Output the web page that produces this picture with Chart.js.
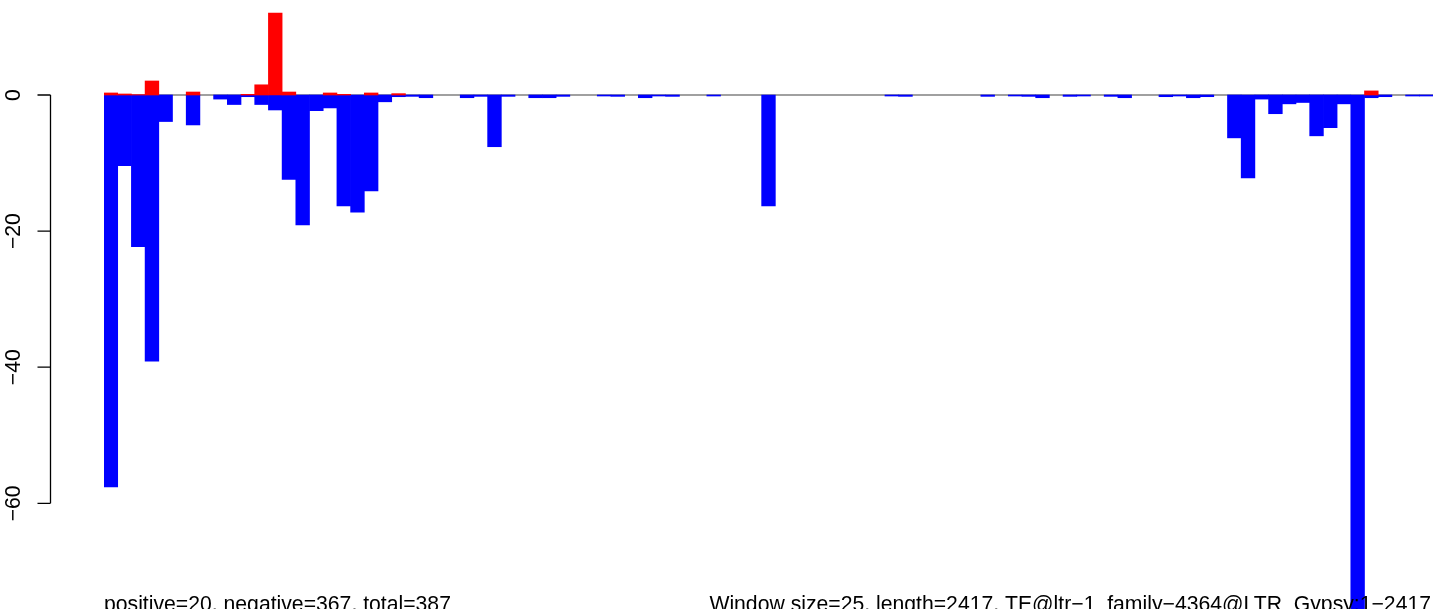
<!DOCTYPE html>
<html lang="en">
<head>
  <meta charset="UTF-8" />
  <title>Window score barplot</title>
  <script src="https://cdn.jsdelivr.net/npm/chart.js"></script>
  <style>
    body { margin: 0; background: #fff; }
    canvas { display: block; }
  </style>
</head>
<body>
  <canvas id="winChart" width="1433" height="609"></canvas>

  <script>
    // one bar per 25 bp window (97 windows over 2417 bp)
    const negative = [
      -57.6, -10.4, -22.3, -39.1, -3.9, 0, -4.4, 0, -0.6, -1.4,
      -0.25, -1.4, -2.2, -12.4, -19.1, -2.3, -1.9, -16.3, -17.2, -14.1,
      -1.0, -0.25, -0.2, -0.4, 0, 0, -0.4, -0.2, -7.6, -0.2,
      0, -0.4, -0.4, -0.2, 0, 0, -0.15, -0.2, 0, -0.4,
      -0.15, -0.2, 0, 0, -0.15, 0, 0, 0, -16.3, 0,
      0, 0, 0, 0, 0, 0, 0, -0.15, -0.2, 0,
      0, 0, 0, 0, -0.2, 0, -0.15, -0.2, -0.4, 0,
      -0.2, -0.15, 0, -0.2, -0.4, 0, 0, -0.25, -0.15, -0.4,
      -0.25, 0, -6.3, -12.2, -0.6, -2.75, -1.3, -1.1, -6.0, -4.8,
      -1.3, -80, -0.4, -0.25, 0, -0.15, -0.15
    ];
    const positive = [
      0.3, 0.15, 0.05, 2.06, 0, 0, 0.44, 0, 0, 0,
      0.1, 1.5, 12.05, 0.44, 0, 0, 0.3, 0.1, 0, 0.3,
      0, 0.2, 0, 0, 0, 0, 0, 0, 0, 0,
      0, 0, 0, 0, 0, 0, 0, 0, 0, 0,
      0, 0, 0, 0, 0, 0, 0, 0, 0, 0,
      0, 0, 0, 0, 0, 0, 0, 0, 0, 0,
      0, 0, 0, 0, 0, 0, 0, 0, 0, 0,
      0, 0, 0, 0, 0, 0, 0, 0, 0, 0,
      0, 0, 0, 0, 0, 0, 0, 0, 0, 0,
      0, 0, 0.6, 0, 0, 0, 0
    ];
    const windows = negative.map((v, i) => i + 1);
    const yTicks = [0, -20, -40, -60];
    const leftNote = 'positive=20, negative=367, total=387';
    const rightNote = 'Window size=25, length=2417, TE@ltr\u22121_family\u22124364@LTR_Gypsy:1\u22122417';

    const fmt = v => String(v).replace('-', '\u2212');
    const noZero = arr => arr.map(v => (v === 0 ? null : v)); // empty windows draw nothing

    // gray zero line under the bars
    const zeroLine = {
      id: 'zeroLine',
      beforeDatasetsDraw(chart) {
        const { ctx, chartArea, scales } = chart;
        const y = scales.y.getPixelForValue(0);
        ctx.save();
        ctx.strokeStyle = '#808080';
        ctx.lineWidth = 1.3;
        ctx.beginPath();
        ctx.moveTo(chartArea.left, y);
        ctx.lineTo(chartArea.right, y);
        ctx.stroke();
        ctx.restore();
      }
    };

    // R-style left axis plus the two margin notes
    const rAxis = {
      id: 'rAxis',
      afterDraw(chart) {
        const { ctx, scales } = chart;
        const y = scales.y;
        const ax = 50.5;
        ctx.save();
        ctx.strokeStyle = '#000';
        ctx.lineWidth = 1.3;
        ctx.beginPath();
        ctx.moveTo(ax, y.getPixelForValue(yTicks[0]));
        ctx.lineTo(ax, y.getPixelForValue(yTicks[yTicks.length - 1]));
        yTicks.forEach(t => {
          const py = y.getPixelForValue(t);
          ctx.moveTo(ax, py);
          ctx.lineTo(ax - 13, py);
        });
        ctx.stroke();

        ctx.fillStyle = '#000';
        ctx.font = '21.2px "Liberation Sans", Arial, sans-serif';
        ctx.textAlign = 'center';
        ctx.textBaseline = 'alphabetic';
        yTicks.forEach(t => {
          ctx.save();
          ctx.translate(20, y.getPixelForValue(t));
          ctx.rotate(-Math.PI / 2);
          ctx.fillText(fmt(t), 0, 0);
          ctx.restore();
        });

        ctx.textAlign = 'left';
        ctx.fillText(leftNote, 104, 611);
        ctx.textAlign = 'right';
        ctx.fillText(rightNote, 1431, 611);
        ctx.restore();
      }
    };

    const ctx = document.getElementById('winChart').getContext('2d');
    new Chart(ctx, {
      type: 'bar',
      data: {
        labels: windows,
        datasets: [
          { label: 'positive', data: noZero(positive), backgroundColor: '#ff0000',
            borderWidth: 0, barPercentage: 1, categoryPercentage: 1, grouped: false },
          { label: 'negative', data: noZero(negative), backgroundColor: '#0000ff',
            borderWidth: 0, barPercentage: 1, categoryPercentage: 1, grouped: false }
        ]
      },
      options: {
        responsive: false,
        animation: false,
        layout: { padding: { left: 104, right: 0, top: 0, bottom: 0 } },
        plugins: { legend: { display: false }, tooltip: { enabled: false } },
        scales: {
          x: { display: false },
          y: { display: false, min: -75.53, max: 13.96 }
        }
      },
      plugins: [zeroLine, rAxis]
    });
  </script>
</body>
</html>
